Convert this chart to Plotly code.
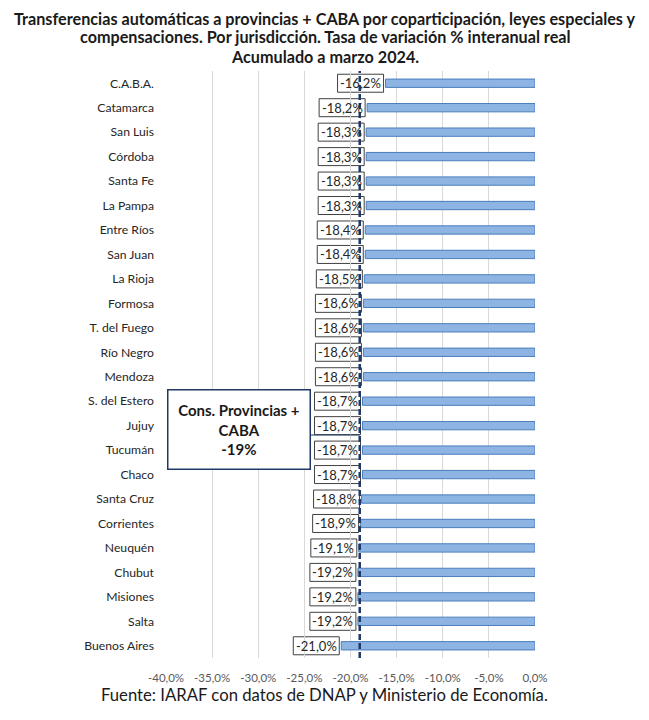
import plotly.graph_objects as go

provinces = ["C.A.B.A.", "Catamarca", "San Luis", "Córdoba", "Santa Fe", "La Pampa",
             "Entre Ríos", "San Juan", "La Rioja", "Formosa", "T. del Fuego", "Río Negro",
             "Mendoza", "S. del Estero", "Jujuy", "Tucumán", "Chaco", "Santa Cruz",
             "Corrientes", "Neuquén", "Chubut", "Misiones", "Salta", "Buenos Aires"]
values = [-16.2, -18.2, -18.3, -18.3, -18.3, -18.3,
          -18.4, -18.4, -18.5, -18.6, -18.6, -18.6,
          -18.6, -18.7, -18.7, -18.7, -18.7, -18.8,
          -18.9, -19.1, -19.2, -19.2, -19.2, -21.0]
total_value = -19
tick_vals = [-40, -35, -30, -25, -20, -15, -10, -5, 0]
tick_text = ["-40,0%", "-35,0%", "-30,0%", "-25,0%", "-20,0%", "-15,0%", "-10,0%", "-5,0%", "0,0%"]
title_lines = [
    "Transferencias automáticas a provincias + CABA por coparticipación, leyes especiales y",
    "compensaciones. Por jurisdicción. Tasa de variación % interanual real",
    "Acumulado a marzo 2024.",
]
source_text = "Fuente: IARAF con datos de DNAP y Ministerio de Economía."
box_text = "<b>Cons. Provincias +<br>CABA<br>-19%</b>"

FONT = "Lato"
W, H = 649, 720
PLOT_LEFT, PLOT_RIGHT = 158, 527
PLOT_TOP, PLOT_BOTTOM = 63, 650
PW = PLOT_RIGHT - PLOT_LEFT
PH = PLOT_BOTTOM - PLOT_TOP


def py(pix):
    return (PLOT_BOTTOM - pix) / PH


def px(pix):
    return (pix - PLOT_LEFT) / PW


fig = go.Figure()
fig.add_trace(go.Bar(
    x=values, y=provinces, orientation="h", width=0.34,
    marker=dict(color="#8EB4E3", line=dict(color="#4A7EBB", width=1)),
    hoverinfo="x+y", showlegend=False,
))

annotations = []
shapes = []
BOX_W = 46
for p, v in zip(provinces, values):
    shapes.append(dict(
        type="rect", xref="x", yref="y", xsizemode="pixel", ysizemode="pixel",
        xanchor=v, yanchor=p, x0=-BOX_W - 2, x1=-2, y0=-9, y1=9,
        fillcolor="white", line=dict(color="#404040", width=1), layer="below",
    ))
    annotations.append(dict(
        x=v, y=p, xref="x", yref="y", text=f"{v:.1f}%".replace(".", ","),
        showarrow=False, xanchor="center", xshift=-2 - BOX_W / 2,
        font=dict(family=FONT, size=13, color="#262626"),
    ))

annotations.append(dict(
    x=px(159), y=py(422), xref="paper", yref="paper",
    text=box_text,
    showarrow=False, xanchor="left", yanchor="middle",
    width=139, height=76, align="center",
    font=dict(family=FONT, size=15, color="#1a1a1a"),
    bgcolor="white", bordercolor="#1F3864", borderwidth=1.5,
))

for line, cy in zip(title_lines, [10.5, 29, 49]):
    annotations.append(dict(
        x=px(317), y=py(cy), xref="paper", yref="paper", yanchor="middle", xanchor="center",
        text=f"<b>{line}</b>", showarrow=False, borderpad=0,
        font=dict(family=FONT, size=16.2, color="#1a1a1a"),
    ))
annotations.append(dict(
    x=px(316), y=py(687), xref="paper", yref="paper", yanchor="middle", xanchor="center",
    text=source_text,
    showarrow=False, font=dict(family=FONT, size=16.7, color="#1a1a1a"),
))

shapes += [
    dict(type="line", xref="x", yref="paper", x0=total_value, x1=total_value, y0=0, y1=1,
         line=dict(color="#1F3864", width=2.5, dash="6px,3px"), layer="above"),
    dict(type="line", xref="paper", yref="paper", x0=px(301), x1=px(PLOT_LEFT + PW * 21 / 40),
         y0=py(427), y1=py(427),
         line=dict(color="#1F3864", width=1.2), layer="above"),
]

fig.update_layout(
    width=W, height=H,
    margin=dict(l=PLOT_LEFT, r=W - PLOT_RIGHT, t=PLOT_TOP, b=H - PLOT_BOTTOM),
    paper_bgcolor="white", plot_bgcolor="white",
    annotations=annotations, shapes=shapes,
    xaxis=dict(range=[-40, 0], tickvals=tick_vals, ticktext=tick_text,
               showgrid=True, gridcolor="#D9D9D9", gridwidth=1, zeroline=False,
               ticks="", ticklabelstandoff=11,
               tickfont=dict(family=FONT, size=11.5, color="#595959"), fixedrange=True),
    yaxis=dict(autorange="reversed", showgrid=False, zeroline=False, ticks="",
               ticklabelstandoff=11,
               tickfont=dict(family=FONT, size=12.2, color="#262626"), fixedrange=True),
)

fig.write_html("out.html")
